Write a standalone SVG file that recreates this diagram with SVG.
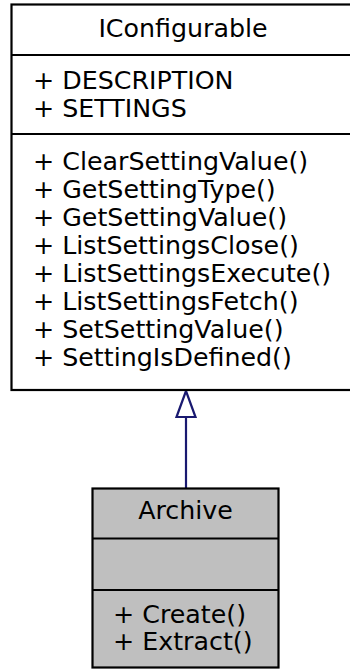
<svg xmlns="http://www.w3.org/2000/svg" width="350" height="670" viewBox="0 0 350 670">
<style>
text{font-family:"DejaVu Sans",sans-serif;font-size:25.3px;fill:#000}
.c{text-anchor:middle}
.box{stroke:#000;stroke-width:2.2}
</style>
<rect width="350" height="670" fill="#fff"/>
<g id="edges">
<line x1="186" y1="488" x2="186" y2="417" stroke="#191970" stroke-width="2.2"/>
<polygon points="186,391 176.5,417 195.5,417" fill="#fff" stroke="#191970" stroke-width="2.2"/>
</g>
<g id="IConfigurable">
<rect class="box" x="11.5" y="4.5" width="345" height="385.5" fill="#fff"/>
<line class="box" x1="11.5" y1="55" x2="356" y2="55"/>
<line class="box" x1="11.5" y1="134" x2="356" y2="134"/>
<text class="c" x="183" y="37">IConfigurable</text>
<text x="33" y="88.5">+ DESCRIPTION</text>
<text x="33" y="117">+ SETTINGS</text>
<text x="33" y="169.5">+ ClearSettingValue()</text>
<text x="33" y="197.6">+ GetSettingType()</text>
<text x="33" y="225.7">+ GetSettingValue()</text>
<text x="33" y="253.8">+ ListSettingsClose()</text>
<text x="33" y="281.9">+ ListSettingsExecute()</text>
<text x="33" y="310">+ ListSettingsFetch()</text>
<text x="33" y="338.1">+ SetSettingValue()</text>
<text x="33" y="366.2">+ SettingIsDefined()</text>
</g>
<g id="Archive">
<rect class="box" x="92.5" y="488.5" width="186" height="179" fill="#bfbfbf"/>
<line class="box" x1="92.5" y1="538.5" x2="278.5" y2="538.5"/>
<line class="box" x1="92.5" y1="590" x2="278.5" y2="590"/>
<text class="c" x="185.5" y="519">Archive</text>
<text x="113" y="623">+ Create()</text>
<text x="113" y="650">+ Extract()</text>
</g>
</svg>
